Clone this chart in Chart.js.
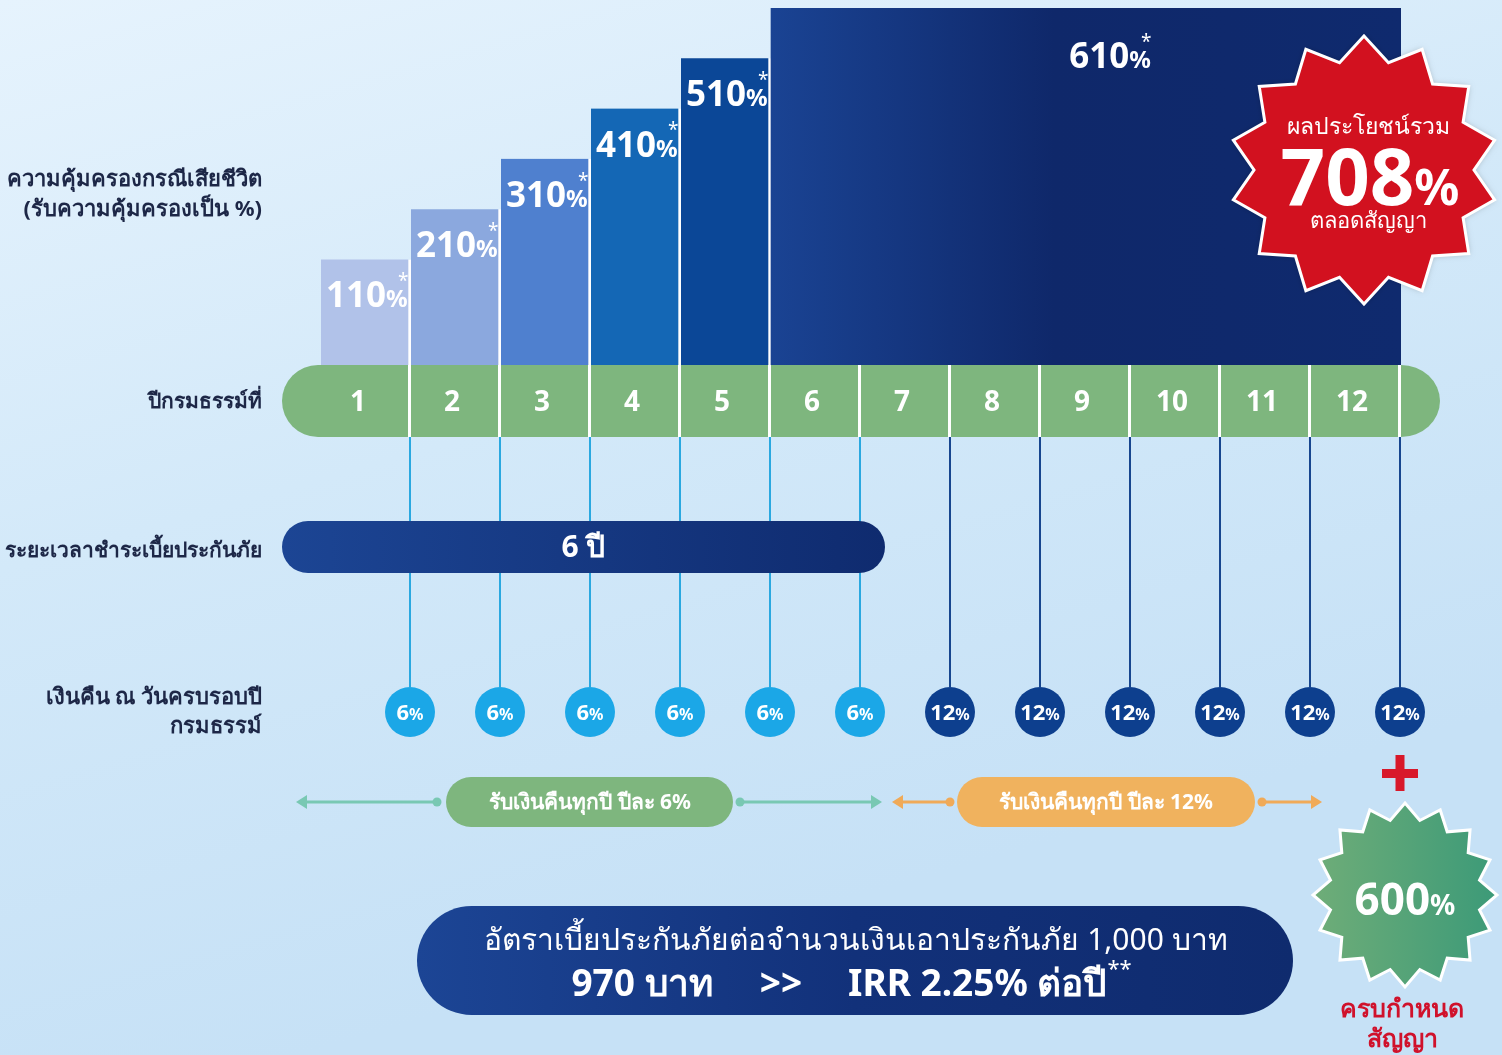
<!DOCTYPE html>
<html>
<head>
<meta charset="utf-8">
<script src="https://cdn.jsdelivr.net/npm/chart.js@4.4.0/dist/chart.umd.min.js"></script>
<style>
  html, body { margin: 0; padding: 0; overflow: hidden; background: #d6eaf9; }
  canvas { display: block; }
</style>
</head>
<body>
<canvas id="plan_chart" width="1502" height="1055" style="width:1502px;height:1055px"></canvas>
<script>
// policy years and the values
var years = ['1', '2', '3', '4', '5', '6', '7', '8', '9', '10', '11', '12'];
var coverage = [110, 210, 310, 410, 510, 610, 610, 610, 610, 610, 610, 610];
var cashBack = [6, 6, 6, 6, 6, 6, 12, 12, 12, 12, 12, 12];
var barColours = ['#b1c2e9', '#8ba8de', '#4f80cf', '#1467b5', '#0b4797'];
var payYears = 6;
var totalBenefit = 708;
var maturityBenefit = 600;
var premiumPer1000 = 970;
var irr = 2.25;

var rowLabels = {
    cover: ['ความคุ้มครองกรณีเสียชีวิต', '(รับความคุ้มครองเป็น %)'],
    year: 'ปีกรมธรรม์ที่',
    pay: 'ระยะเวลาชำระเบี้ยประกันภัย',
    cash: ['เงินคืน ณ วันครบรอบปี', 'กรมธรรม์']
};

var FONT = '"Noto Sans", "DejaVu Sans", sans-serif';

function font(size, bold) {
    return (bold ? 'bold ' : '') + size + 'px ' + FONT;
}

function pctText(ctx, num, x, y, big, small, align, star) {
    ctx.font = font(big, true);
    var w1 = ctx.measureText(num).width;
    ctx.font = font(small, true);
    var w2 = ctx.measureText('%').width;
    var left = align === 'center' ? x - (w1 + w2) / 2 : x;
    ctx.textAlign = 'left';
    ctx.textBaseline = 'alphabetic';
    ctx.font = font(big, true);
    ctx.fillText(num, left, y);
    ctx.font = font(small, true);
    ctx.fillText('%', left + w1, y);
    if (star) {
        ctx.font = font(Math.round(small * 0.8), false);
        ctx.fillText('*', left + w1 + w2 * 0.55, y - big * 0.58);
    }
}

function roundPill(ctx, x1, y1, x2, y2) {
    var r = (y2 - y1) / 2;
    ctx.beginPath();
    ctx.moveTo(x1 + r, y1);
    ctx.lineTo(x2 - r, y1);
    ctx.arc(x2 - r, y1 + r, r, -Math.PI / 2, Math.PI / 2);
    ctx.lineTo(x1 + r, y2);
    ctx.arc(x1 + r, y1 + r, r, Math.PI / 2, Math.PI * 1.5);
    ctx.closePath();
}

function starPath(ctx, cx, cy, n, ro, ri) {
    ctx.beginPath();
    for (var i = 0; i < n * 2; i++) {
        var a = -Math.PI / 2 + i * Math.PI / n;
        var r = i % 2 === 0 ? ro : ri;
        var px = cx + Math.cos(a) * r, py = cy + Math.sin(a) * r;
        if (i === 0) ctx.moveTo(px, py); else ctx.lineTo(px, py);
    }
    ctx.closePath();
}

function arrow(ctx, x1, x2, y, colour, headLeft, headRight) {
    ctx.strokeStyle = colour;
    ctx.fillStyle = colour;
    ctx.lineWidth = 3;
    ctx.beginPath();
    ctx.moveTo(x1 + (headLeft ? 8 : 0), y);
    ctx.lineTo(x2 - (headRight ? 8 : 0), y);
    ctx.stroke();
    if (headLeft) {
        ctx.beginPath(); ctx.moveTo(x1, y); ctx.lineTo(x1 + 11, y - 7); ctx.lineTo(x1 + 11, y + 7); ctx.closePath(); ctx.fill();
    } else {
        ctx.beginPath(); ctx.arc(x1, y, 4.5, 0, Math.PI * 2); ctx.fill();
    }
    if (headRight) {
        ctx.beginPath(); ctx.moveTo(x2, y); ctx.lineTo(x2 - 11, y - 7); ctx.lineTo(x2 - 11, y + 7); ctx.closePath(); ctx.fill();
    } else {
        ctx.beginPath(); ctx.arc(x2, y, 4.5, 0, Math.PI * 2); ctx.fill();
    }
}

var backgroundPlugin = {
    id: 'bg',
    beforeDraw: function (chart) {
        var ctx = chart.ctx;
        var g = ctx.createLinearGradient(0, 0, 300, chart.height);
        g.addColorStop(0, '#e6f3fd');
        g.addColorStop(0.5, '#d3e9f9');
        g.addColorStop(1, '#c6e1f6');
        ctx.save();
        ctx.fillStyle = g;
        ctx.fillRect(0, 0, chart.width, chart.height);
        ctx.restore();
    }
};

var layoutPlugin = {
    id: 'plan',
    afterDatasetsDraw: function (chart) {
        var ctx = chart.ctx;
        var xs = chart.scales.x;
        var area = chart.chartArea;
        var cellW = xs.getPixelForValue(1) - xs.getPixelForValue(0);
        var edge = function (i) { return xs.getPixelForValue(i) + cellW / 2; }; // right edge of year i+1
        var meta = chart.getDatasetMeta(0);
        var bandTop = area.bottom, bandBot = area.bottom + 72, bandMid = (bandTop + bandBot) / 2;
        var bandLeft = 282;
        ctx.save();

        // coverage labels
        ctx.fillStyle = '#ffffff';
        for (var i = 0; i < 5; i++) {
            var bar = meta.data[i];
            pctText(ctx, String(coverage[i]), bar.x - bar.width / 2 + 5, bar.y + 48, 35, 24, 'left', true);
        }
        var bigMid = (meta.data[5].x + meta.data[11].x) / 2;
        pctText(ctx, String(coverage[5]), bigMid + 24, area.top + 60, 35, 24, 'center', true);

        // green band with year numbers
        ctx.fillStyle = '#7eb67e';
        ctx.beginPath();
        ctx.moveTo(bandLeft + 36, bandTop);
        ctx.lineTo(edge(11), bandTop);
        ctx.ellipse(edge(11), bandMid, 39, 36, 0, -Math.PI / 2, Math.PI / 2);
        ctx.lineTo(bandLeft + 36, bandBot);
        ctx.arc(bandLeft + 36, bandMid, 36, Math.PI / 2, Math.PI * 1.5);
        ctx.closePath();
        ctx.fill();
        ctx.strokeStyle = '#ffffff';
        ctx.lineWidth = 3;
        for (var k = 0; k < years.length; k++) {
            ctx.beginPath();
            ctx.moveTo(edge(k) - 1.5, bandTop);
            ctx.lineTo(edge(k) - 1.5, bandBot);
            ctx.stroke();
        }
        ctx.fillStyle = '#ffffff';
        ctx.font = font(28, true);
        ctx.textAlign = 'center';
        ctx.textBaseline = 'middle';
        years.forEach(function (y, j) {
            ctx.fillText(y, xs.getPixelForValue(j) - (j === 0 ? 8 : 4), bandMid + 2);
        });

        // drop lines to cash back circles
        var cy = 712, cr = 25;
        cashBack.forEach(function (v, j) {
            ctx.strokeStyle = j < payYears ? '#2aa8e0' : '#17468f';
            ctx.lineWidth = 2;
            ctx.beginPath();
            ctx.moveTo(edge(j) - 1, bandBot);
            ctx.lineTo(edge(j) - 1, cy - cr);
            ctx.stroke();
        });

        // payment period pill
        var payRight = edge(payYears - 1) + 24;
        var pg = ctx.createLinearGradient(bandLeft, 0, payRight, 0);
        pg.addColorStop(0, '#1c4594');
        pg.addColorStop(1, '#0f2b6f');
        ctx.fillStyle = pg;
        roundPill(ctx, bandLeft, 521, payRight, 573);
        ctx.fill();
        ctx.fillStyle = '#ffffff';
        ctx.font = font(30, true);
        ctx.textAlign = 'center';
        ctx.textBaseline = 'middle';
        ctx.fillText(payYears + ' ปี', (bandLeft + payRight) / 2, 548);

        // cash back circles
        cashBack.forEach(function (v, j) {
            var cx = edge(j) - 1;
            ctx.fillStyle = j < payYears ? '#1ba7e7' : '#0d3f8e';
            ctx.beginPath();
            ctx.arc(cx, cy, cr, 0, Math.PI * 2);
            ctx.fill();
            ctx.fillStyle = '#ffffff';
            pctText(ctx, String(v), cx, cy + 8, 22, 16, 'center', false);
        });

        // left row labels
        ctx.fillStyle = '#1d2747';
        ctx.textAlign = 'right';
        ctx.textBaseline = 'middle';
        ctx.font = font(22, true);
        ctx.fillText(rowLabels.cover[0], 262, 180);
        ctx.fillText(rowLabels.cover[1], 262, 210);
        ctx.font = font(21, true);
        ctx.fillText(rowLabels.year, 262, 402);
        ctx.fillText(rowLabels.pay, 262, 551);
        ctx.font = font(22, true);
        ctx.fillText(rowLabels.cash[0], 262, 698);
        ctx.fillText(rowLabels.cash[1], 262, 727);

        // cash back period arrows and pills
        var ay = 802;
        arrow(ctx, 296, 437, ay, '#79c8b3', true, false);
        arrow(ctx, 740, 882, ay, '#79c8b3', false, true);
        arrow(ctx, 892, 950, ay, '#f0aa58', true, false);
        arrow(ctx, 1262, 1322, ay, '#f0aa58', false, true);
        ctx.fillStyle = '#7eb67e';
        roundPill(ctx, 446, 777, 733, 827);
        ctx.fill();
        ctx.fillStyle = '#f0b25e';
        roundPill(ctx, 957, 777, 1255, 827);
        ctx.fill();
        ctx.fillStyle = '#ffffff';
        ctx.font = font(21, true);
        ctx.textAlign = 'center';
        ctx.fillText('รับเงินคืนทุกปี ปีละ ' + cashBack[0] + '%', 590, 803);
        ctx.fillText('รับเงินคืนทุกปี ปีละ ' + cashBack[11] + '%', 1106, 803);

        // red plus
        var px = edge(11) - 1;
        ctx.fillStyle = '#d8182a';
        ctx.fillRect(px - 18, 769, 36, 9);
        ctx.fillRect(px - 4.5, 755, 9, 36);

        // maturity star
        var gcx = 1405, gcy = 895;
        starPath(ctx, gcx, gcy, 16, 92, 76);
        var gg = ctx.createLinearGradient(gcx - 92, 0, gcx + 92, 0);
        gg.addColorStop(0, '#6fad78');
        gg.addColorStop(1, '#3c9a78');
        ctx.fillStyle = gg;
        ctx.fill();
        ctx.strokeStyle = '#ffffff';
        ctx.lineWidth = 3;
        ctx.stroke();
        ctx.fillStyle = '#ffffff';
        pctText(ctx, String(maturityBenefit), gcx, gcy + 20, 44, 28, 'center', false);
        ctx.fillStyle = '#d0112b';
        ctx.font = font(25, true);
        ctx.textAlign = 'center';
        ctx.textBaseline = 'middle';
        ctx.fillText('ครบกำหนด', 1402, 1010);
        ctx.fillText('สัญญา', 1402, 1040);

        // total benefit star
        var rcx = 1364, rcy = 170;
        ctx.save();
        ctx.shadowColor = 'rgba(0,0,0,0.25)';
        ctx.shadowBlur = 6;
        starPath(ctx, rcx, rcy, 14, 134, 110);
        ctx.fillStyle = '#d2111f';
        ctx.fill();
        ctx.restore();
        starPath(ctx, rcx, rcy, 14, 134, 110);
        ctx.strokeStyle = '#ffffff';
        ctx.lineWidth = 3;
        ctx.stroke();
        ctx.fillStyle = '#ffffff';
        ctx.font = font(23, false);
        ctx.textAlign = 'center';
        ctx.textBaseline = 'middle';
        ctx.fillText('ผลประโยชน์รวม', rcx + 4, 127);
        pctText(ctx, String(totalBenefit), rcx + 6, 205, 78, 50, 'center', false);
        ctx.font = font(22, false);
        ctx.textAlign = 'center';
        ctx.textBaseline = 'middle';
        ctx.fillText('ตลอดสัญญา', rcx + 4, 222);

        // premium / IRR pill
        var bg = ctx.createLinearGradient(417, 0, 1293, 0);
        bg.addColorStop(0, '#1c4595');
        bg.addColorStop(0.5, '#12317a');
        bg.addColorStop(1, '#0f2b6e');
        ctx.fillStyle = bg;
        roundPill(ctx, 417, 906, 1293, 1015);
        ctx.fill();
        ctx.fillStyle = '#ffffff';
        ctx.font = font(30, false);
        ctx.textAlign = 'center';
        ctx.textBaseline = 'middle';
        ctx.fillText('อัตราเบี้ยประกันภัยต่อจำนวนเงินเอาประกันภัย 1,000 บาท', 856, 941);
        ctx.font = font(37, true);
        ctx.fillText(premiumPer1000 + ' บาท', 642, 985);
        ctx.fillText('>>', 781, 985);
        ctx.textAlign = 'left';
        var irrText = 'IRR ' + irr.toFixed(2) + '% ต่อปี';
        ctx.fillText(irrText, 848, 985);
        var iw = ctx.measureText(irrText).width;
        ctx.font = font(22, false);
        ctx.fillText('**', 848 + iw + 1, 970);

        ctx.restore();
    }
};

var plan_chart = new Chart(document.getElementById('plan_chart').getContext('2d'), {
    type: 'bar',
    data: {
        labels: years,
        datasets: [{
            data: coverage,
            base: -100,
            barPercentage: 1,
            categoryPercentage: 1,
            backgroundColor: function (c) {
                var i = c.dataIndex;
                if (i < 5) return barColours[i];
                var area = c.chart.chartArea;
                if (!area) return '#0f2a6e';
                var x0 = c.chart.scales.x.getPixelForValue(5) - (area.right - area.left) / 24;
                var g = c.chart.ctx.createLinearGradient(x0, 0, area.right, 0);
                g.addColorStop(0, '#1a4393');
                g.addColorStop(0.45, '#0f286a');
                g.addColorStop(1, '#0f2a6e');
                return g;
            },
            borderColor: '#ffffff',
            borderWidth: function (c) {
                return c.dataIndex < 5 ? { top: 0, right: 3, bottom: 0, left: 0 } : 0;
            },
            borderSkipped: false
        }]
    },
    options: {
        responsive: false,
        animation: false,
        layout: {
            padding: { left: 321, right: 101, top: 8, bottom: 690 }
        },
        scales: {
            x: { display: false },
            y: { display: false, min: -100, max: 610 }
        },
        plugins: {
            legend: { display: false },
            tooltip: { enabled: false }
        }
    },
    plugins: [backgroundPlugin, layoutPlugin]
});
</script>
</body>
</html>
